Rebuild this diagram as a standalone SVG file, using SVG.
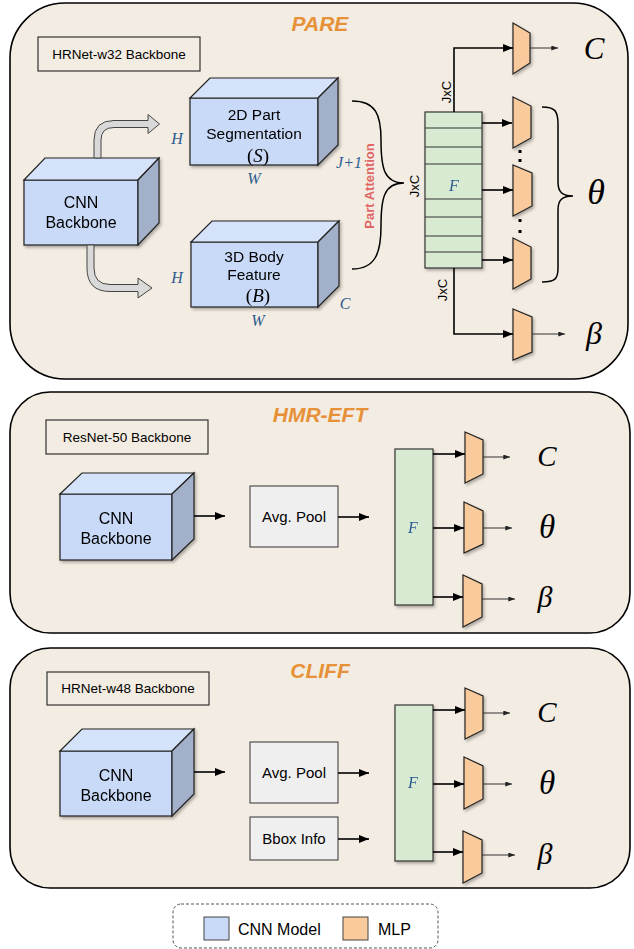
<svg xmlns="http://www.w3.org/2000/svg" width="634" height="949" viewBox="0 0 634 949">
<defs>
<filter id="sh" x="-20%" y="-20%" width="150%" height="150%"><feDropShadow dx="1.5" dy="2" stdDeviation="1.5" flood-color="#000" flood-opacity="0.3"/></filter>
<marker id="ah" viewBox="0 0 10 8" refX="10" refY="4" markerWidth="11" markerHeight="8" markerUnits="userSpaceOnUse" orient="auto"><path d="M0,0 L10,4 L0,8 Z" fill="#000"/></marker>
<marker id="as" viewBox="0 0 8 6" refX="8" refY="3" markerWidth="7" markerHeight="5" markerUnits="userSpaceOnUse" orient="auto"><path d="M0,0 L8,3 L0,6 Z" fill="#222"/></marker>
<style>
.panel{fill:#f3ece2;stroke:#000;stroke-width:1.6}
.title{font-family:"Liberation Sans",Arial,sans-serif;font-weight:bold;font-style:italic;font-size:21px;fill:#e69138;text-anchor:middle}
.lbl{fill:none;stroke:#333;stroke-width:1.2}
.t{font-family:"Liberation Sans",Arial,sans-serif;fill:#000;text-anchor:middle}
.front{fill:#c9daf8;stroke:#222;stroke-width:1.2}
.top{fill:#d5e3fa;stroke:#222;stroke-width:1.2}
.side{fill:#a2b1c9;stroke:#222;stroke-width:1.2}
.mlp{fill:#f9cb9c;stroke:#222;stroke-width:1.2}
.feat{fill:#d9ead3;stroke:#333;stroke-width:1.2}
.pool{fill:#efefef;stroke:#333;stroke-width:1}
.math{font-family:"Liberation Serif","Times New Roman",serif;font-style:italic;fill:#000;text-anchor:middle}
.dim{font-family:"Liberation Serif","Times New Roman",serif;font-style:italic;fill:#2c5b8f;font-size:16px;text-anchor:middle}
.conn{fill:none;stroke:#000;stroke-width:1.6}
.out{fill:none;stroke:#333;stroke-width:1}
.rot{font-family:"Liberation Sans",Arial,sans-serif;font-size:13px;fill:#000;text-anchor:middle}
</style>
</defs>

<!-- Panels -->
<g id="panel-pare">
<rect class="panel" x="10" y="3" width="618" height="376" rx="55"/>
<text class="title" x="320" y="31">PARE</text>
</g>
<g id="panel-hmr">
<rect class="panel" x="10" y="392" width="620" height="241" rx="40"/>
<text class="title" x="320" y="422">HMR-EFT</text>
</g>
<g id="panel-cliff">
<rect class="panel" x="10" y="648" width="620" height="240" rx="40"/>
<text class="title" x="320" y="678">CLIFF</text>
</g>

<!-- PARE -->
<g id="pare-backbone-label">
<rect class="lbl" x="38" y="37" width="162" height="34"/>
<text class="t" x="119" y="59" font-size="13.5">HRNet-w32 Backbone</text>
</g>
<g id="pare-cnn" filter="url(#sh)">
<rect class="front" x="24" y="180" width="114" height="65"/>
<path class="top" d="M24,180 L45,158 L159,158 L138,180 Z"/>
<path class="side" d="M138,180 L159,158 L159,223 L138,245 Z"/>
<text class="t" x="81" y="208" font-size="16">CNN</text>
<text class="t" x="81" y="228" font-size="16">Backbone</text>
</g>
<g id="pare-seg" filter="url(#sh)">
<rect class="front" x="190" y="98" width="128" height="67"/>
<path class="top" d="M190,98 L210,78 L338,78 L318,98 Z"/>
<path class="side" d="M318,98 L338,78 L338,145 L318,165 Z"/>
<text class="t" x="254" y="120" font-size="15.5">2D Part</text>
<text class="t" x="254" y="139" font-size="15.5">Segmentation</text>
<text class="math" x="258" y="162" font-size="19"><tspan font-style="normal">(</tspan>S<tspan font-style="normal">)</tspan></text>
</g>
<g id="pare-body" filter="url(#sh)">
<rect class="front" x="191" y="242" width="127" height="65"/>
<path class="top" d="M191,242 L212,221 L339,221 L318,242 Z"/>
<path class="side" d="M318,242 L339,221 L339,286 L318,307 Z"/>
<text class="t" x="254" y="262" font-size="15.5">3D Body</text>
<text class="t" x="254" y="280" font-size="15.5">Feature</text>
<text class="math" x="258" y="302" font-size="19"><tspan font-style="normal">(</tspan>B<tspan font-style="normal">)</tspan></text>
</g>
<g id="pare-dims">
<text class="dim" x="177" y="144">H</text>
<text class="dim" x="254" y="184">W</text>
<text class="dim" x="349" y="168">J+1</text>
<text class="dim" x="177" y="283">H</text>
<text class="dim" x="258" y="326">W</text>
<text class="dim" x="345" y="309">C</text>
</g>
<g id="pare-feature" filter="url(#sh)">
<rect class="feat" x="425" y="112" width="57" height="156"/>
<path d="M425,128 H482 M425,147 H482 M425,164 H482 M425,199 H482 M425,217 H482 M425,236 H482 M425,252 H482" stroke="#333" stroke-width="1.2"/>
<text class="dim" x="454" y="191" font-size="14">F</text>
</g>
<g id="pare-mlps">
<path class="mlp" filter="url(#sh)" d="M513,23 L530,33 L530,63 L513,74 Z"/>
<path class="mlp" filter="url(#sh)" d="M513,97 L531,106 L531,138 L513,148 Z"/>
<path class="mlp" filter="url(#sh)" d="M513,165 L532,173 L532,206 L513,216 Z"/>
<path class="mlp" filter="url(#sh)" d="M513,238 L531,247 L531,279 L513,289 Z"/>
<path class="mlp" filter="url(#sh)" d="M513,309 L532,317 L532,352 L513,360 Z"/>
<rect x="518.5" y="150" width="3" height="3" fill="#000"/>
<rect x="518.5" y="159" width="3" height="3" fill="#000"/>
<rect x="518.5" y="219" width="3" height="3" fill="#000"/>
<rect x="518.5" y="230" width="3" height="3" fill="#000"/>
</g>
<g id="pare-outputs">
<text class="math" x="594" y="59" font-size="31">C</text>
<text class="math" x="596" y="204" font-size="36">θ</text>
<text class="math" x="594" y="344" font-size="32">β</text>
</g>
<g id="pare-annot">
<text font-family="Liberation Sans,Arial,sans-serif" font-weight="bold" font-size="13" fill="#e06666" text-anchor="middle" transform="translate(374,186) rotate(-90)">Part Attention</text>
<text class="rot" transform="translate(419,186) rotate(-90)">JxC</text>
<text class="rot" transform="translate(451,92) rotate(-90)">JxC</text>
<text class="rot" transform="translate(447,290) rotate(-90)">JxC</text>
</g>

<!-- HMR-EFT -->
<g id="hmr-backbone-label">
<rect class="lbl" x="46" y="420" width="162" height="34"/>
<text class="t" x="127" y="442" font-size="13.5">ResNet-50 Backbone</text>
</g>
<g id="hmr-cnn" filter="url(#sh)">
<rect class="front" x="60" y="494" width="112" height="66"/>
<path class="top" d="M60,494 L82,473 L194,473 L172,494 Z"/>
<path class="side" d="M172,494 L194,473 L194,539 L172,560 Z"/>
<text class="t" x="116" y="524" font-size="16">CNN</text>
<text class="t" x="116" y="544" font-size="16">Backbone</text>
</g>
<g id="hmr-pool">
<rect class="pool" x="250" y="486" width="88" height="61"/>
<text class="t" x="294" y="522" font-size="15">Avg. Pool</text>
</g>
<g id="hmr-feature" filter="url(#sh)">
<rect class="feat" x="395" y="449" width="38" height="156"/>
<text class="dim" x="413" y="533" font-size="14">F</text>
</g>
<g id="hmr-mlps">
<path class="mlp" filter="url(#sh)" d="M465,432 L483,440 L483,474 L465,483 Z"/>
<path class="mlp" filter="url(#sh)" d="M464,502 L483,511 L483,544 L464,553 Z"/>
<path class="mlp" filter="url(#sh)" d="M463,575 L482,584 L482,617 L463,627 Z"/>
</g>
<g id="hmr-outputs">
<text class="math" x="547" y="466" font-size="29">C</text>
<text class="math" x="547" y="538" font-size="33">θ</text>
<text class="math" x="545" y="607" font-size="30">β</text>
</g>

<!-- CLIFF -->
<g id="cliff-backbone-label">
<rect class="lbl" x="47" y="672" width="162" height="33"/>
<text class="t" x="128" y="693" font-size="13.5">HRNet-w48 Backbone</text>
</g>
<g id="cliff-cnn" filter="url(#sh)">
<rect class="front" x="60" y="751" width="112" height="65"/>
<path class="top" d="M60,751 L82,729 L194,729 L172,751 Z"/>
<path class="side" d="M172,751 L194,729 L194,794 L172,816 Z"/>
<text class="t" x="116" y="781" font-size="16">CNN</text>
<text class="t" x="116" y="801" font-size="16">Backbone</text>
</g>
<g id="cliff-pool">
<rect class="pool" x="250" y="742" width="88" height="61"/>
<text class="t" x="294" y="778" font-size="15">Avg. Pool</text>
</g>
<g id="cliff-bbox">
<rect class="pool" x="250" y="817" width="88" height="43"/>
<text class="t" x="294" y="844" font-size="15">Bbox Info</text>
</g>
<g id="cliff-feature" filter="url(#sh)">
<rect class="feat" x="395" y="705" width="38" height="156"/>
<text class="dim" x="413" y="788" font-size="14">F</text>
</g>
<g id="cliff-mlps">
<path class="mlp" filter="url(#sh)" d="M465,688 L483,696 L483,730 L465,739 Z"/>
<path class="mlp" filter="url(#sh)" d="M464,757 L483,766 L483,799 L464,809 Z"/>
<path class="mlp" filter="url(#sh)" d="M463,831 L482,840 L482,873 L463,883 Z"/>
</g>
<g id="cliff-outputs">
<text class="math" x="547" y="722" font-size="29">C</text>
<text class="math" x="547" y="794" font-size="33">θ</text>
<text class="math" x="545" y="864" font-size="30">β</text>
</g>

<!-- Connectors -->
<g id="connectors">
<path d="M94,158 L94,140 Q94,120.5 114,120.5 L148,120.5 L148,114.5 L159.5,124 L148,133.5 L148,127.5 L114,127.5 Q101,127.5 101,140 L101,158 Z" fill="#d9d9d9" stroke="#444" stroke-width="1"/>
<path d="M87,245 L87,268 Q87,291.5 110,291.5 L138,291.5 L138,298 L152,288 L138,278 L138,284.5 L110,284.5 Q94,284.5 94,268 L94,245 Z" fill="#d9d9d9" stroke="#444" stroke-width="1"/>
<path d="M352,101 C376,101 381,115 381,140 C381,168 384,183 404,183 C384,183 381,198 381,226 C381,252 376,269 352,269" fill="none" stroke="#000" stroke-width="1.5"/>
<path d="M542,107 C555,107 558,111 558,124 L558,182 C558,192 562,196 573,196 C562,196 558,200 558,210 L558,268 C558,279 555,282 542,282" fill="none" stroke="#000" stroke-width="1.5"/>
<path class="conn" d="M454,112 L454,48 L513,48" marker-end="url(#ah)"/>
<path class="conn" d="M454,268 L454,334 L513,334" marker-end="url(#ah)"/>
<path class="conn" d="M482,123 L512,123" marker-end="url(#ah)"/>
<path class="conn" d="M482,190 L513,190" marker-end="url(#ah)"/>
<path class="conn" d="M482,260 L513,260" marker-end="url(#ah)"/>
<path class="out" d="M530,48 L558,48" marker-end="url(#as)"/>
<path class="out" d="M532,334 L565,334" marker-end="url(#as)"/>

<path class="conn" d="M194,516 L225,516" marker-end="url(#ah)"/>
<path class="conn" d="M338,517 L369,517" marker-end="url(#ah)"/>
<path class="conn" d="M433,454 L465,454" marker-end="url(#ah)"/>
<path class="conn" d="M433,528 L464,528" marker-end="url(#ah)"/>
<path class="conn" d="M433,597 L463,597" marker-end="url(#ah)"/>
<path class="out" d="M483,457 L510,457" marker-end="url(#as)"/>
<path class="out" d="M483,528 L512,528" marker-end="url(#as)"/>
<path class="out" d="M482,599 L515,599" marker-end="url(#as)"/>

<path class="conn" d="M194,772 L225,772" marker-end="url(#ah)"/>
<path class="conn" d="M338,773 L369,773" marker-end="url(#ah)"/>
<path class="conn" d="M338,839 L369,839" marker-end="url(#ah)"/>
<path class="conn" d="M433,710 L465,710" marker-end="url(#ah)"/>
<path class="conn" d="M433,784 L464,784" marker-end="url(#ah)"/>
<path class="conn" d="M433,852 L463,852" marker-end="url(#ah)"/>
<path class="out" d="M483,713 L510,713" marker-end="url(#as)"/>
<path class="out" d="M483,784 L512,784" marker-end="url(#as)"/>
<path class="out" d="M482,855 L515,855" marker-end="url(#as)"/>
</g>

<!-- Legend -->
<g id="legend">
<rect x="173" y="904" width="265" height="44" rx="8" fill="none" stroke="#555" stroke-width="1" stroke-dasharray="3,2"/>
<rect x="204" y="917" width="25" height="23" fill="#c9daf8" stroke="#444" stroke-width="1"/>
<text x="238" y="935" font-family="Liberation Sans,Arial,sans-serif" font-size="16">CNN Model</text>
<rect x="343" y="917" width="25" height="23" fill="#f9cb9c" stroke="#444" stroke-width="1"/>
<text x="378" y="935" font-family="Liberation Sans,Arial,sans-serif" font-size="16">MLP</text>
</g>
</svg>
